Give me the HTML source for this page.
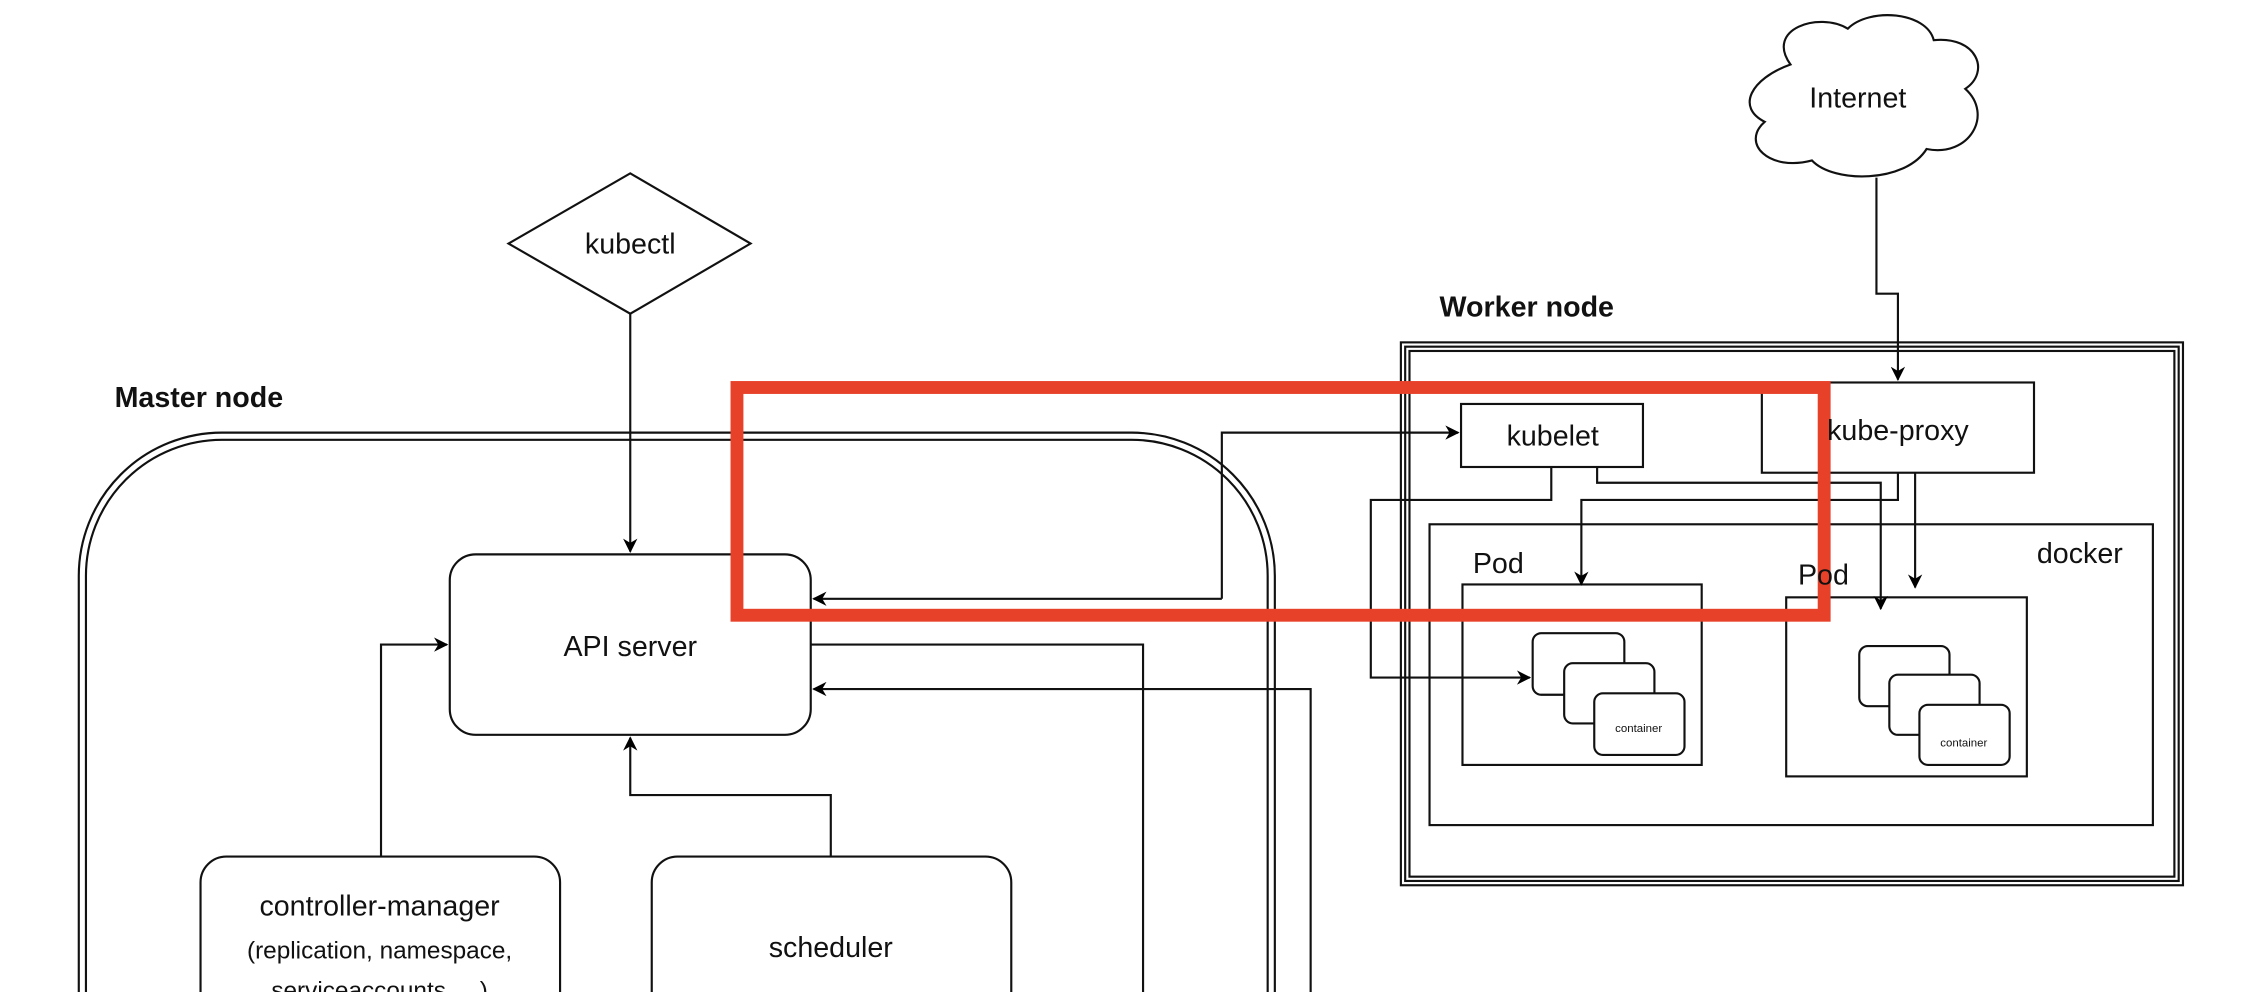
<!DOCTYPE html>
<html><head><meta charset="utf-8"><style>html,body{margin:0;padding:0;background:#fff;overflow:hidden}svg{display:block}text{font-family:"Liberation Sans",sans-serif;fill:#111}</style></head>
<body>
<svg width="2246" height="992" viewBox="0 0 1568 692.5" xmlns="http://www.w3.org/2000/svg">
<defs><marker id="a" markerWidth="10" markerHeight="10" refX="9" refY="5" orient="auto" markerUnits="userSpaceOnUse"><path d="M0,0 L10,5 L0,10 L3,5 z" fill="#000"/></marker></defs>
<g fill="none" stroke="#111" stroke-width="1.5">
<!-- master node double -->
<path d="M55,700 V402 A100,100 0 0 1 155,302 H790 A100,100 0 0 1 890,402 V700"/>
<path d="M60,700 V402 A95,95 0 0 1 155,307 H790 A95,95 0 0 1 885,402 V700"/>
<!-- kubectl -->
<polygon points="355,170 440,121 524,170 440,219" fill="#fff"/>
<path d="M440,219 V385" marker-end="url(#a)"/>
<rect x="314" y="387" width="252" height="126" rx="18" fill="#fff"/>
<rect x="140" y="598" width="251" height="120" rx="18"/>
<rect x="455" y="598" width="251" height="120" rx="18"/>
<path d="M266,598 V450 H312" marker-end="url(#a)"/>
<path d="M580,598 V555 H440 V515" marker-end="url(#a)"/>
<path d="M566,450 H798 V700"/>
<path d="M915,700 V481 H568" marker-end="url(#a)"/>
<path d="M853,418 V302 H1018" marker-end="url(#a)"/>
<path d="M853,418 H568" marker-end="url(#a)"/>
<!-- worker -->
<rect x="978" y="239" width="546" height="379"/>
<rect x="981" y="242" width="540" height="373"/>
<rect x="984" y="245" width="534" height="367"/>
<rect x="998" y="366" width="505" height="210"/>
<rect x="1021" y="408" width="167" height="126"/>
<rect x="1247" y="417" width="168" height="125"/>
<rect x="1020" y="282" width="127" height="44" fill="#fff"/>
<rect x="1230" y="267" width="190" height="63" fill="#fff"/>
<rect x="1070" y="442" width="64" height="43" rx="6" fill="#fff"/>
<rect x="1092" y="463" width="63" height="42" rx="6" fill="#fff"/>
<rect x="1113" y="484" width="63" height="43" rx="6" fill="#fff"/>
<rect x="1298" y="451" width="63" height="42" rx="6" fill="#fff"/>
<rect x="1319" y="471" width="63" height="42" rx="6" fill="#fff"/>
<rect x="1340" y="492" width="63" height="42" rx="6" fill="#fff"/>
<path d="M1083,326 V349 H957 V473 H1068" marker-end="url(#a)"/>
<path d="M1115,326 V337 H1313 V425" marker-end="url(#a)"/>
<path d="M1325,330 V349 H1104 V408" marker-end="url(#a)"/>
<path d="M1337,330 V410" marker-end="url(#a)"/>
<path d="M1310,124 V205 H1325 V265" marker-end="url(#a)"/>
<path d="M1250,45 C1232,20 1270,8 1290,20 C1305,5 1345,8 1350,28 C1380,25 1390,50 1372,62 C1392,80 1375,110 1345,104 C1330,128 1280,128 1265,112 C1235,120 1215,100 1232,85 C1212,75 1222,55 1250,45 Z" fill="#fff"/>
</g>
<rect x="514.5" y="270.5" width="759" height="159" fill="none" stroke="#e8412a" stroke-width="9"/>
<g font-size="20" text-anchor="middle">
<text x="440" y="177">kubectl</text>
<text x="440" y="458">API server</text>
<text x="265" y="639">controller-manager</text>
<text x="265" y="669" font-size="17">(replication, namespace,</text>
<text x="265" y="697" font-size="17">serviceaccounts, ...)</text>
<text x="580" y="668">scheduler</text>
<text x="1084" y="311">kubelet</text>
<text x="1325" y="307">kube-proxy</text>
<text x="1297" y="75">Internet</text>
<text x="1452" y="393">docker</text>
<text x="1046" y="400">Pod</text>
<text x="1273" y="408">Pod</text>
</g>
<g font-size="8" text-anchor="middle" fill="#333">
<text x="1144" y="511">container</text><text x="1371" y="521">container</text>
</g>
<g font-size="20" font-weight="bold">
<text x="80" y="284">Master node</text>
<text x="1005" y="221">Worker node</text>
</g>
</svg>
</body></html>
